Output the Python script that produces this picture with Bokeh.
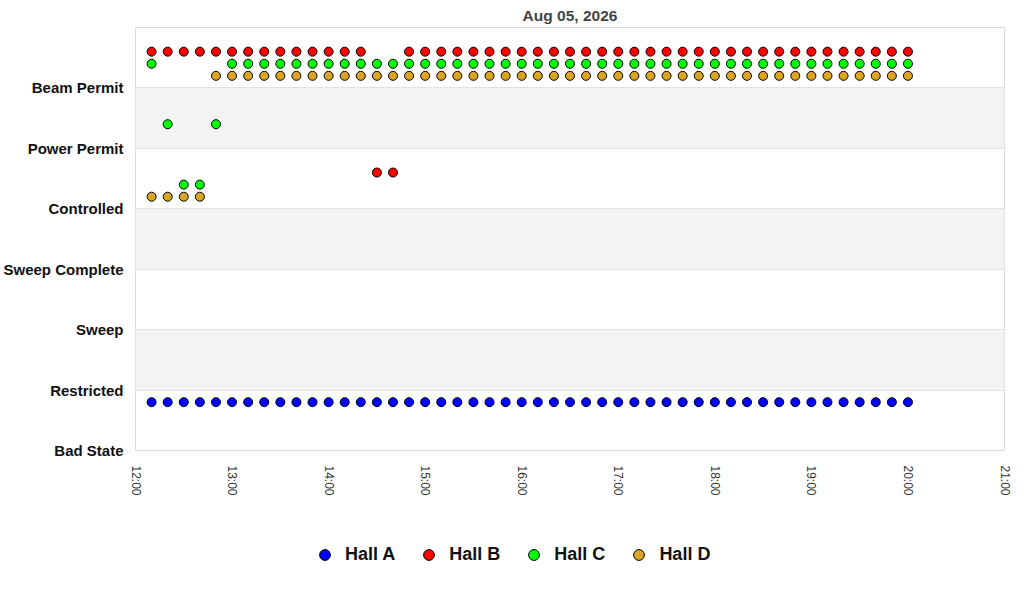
import pandas as pd
from bokeh.plotting import figure
from bokeh.layouts import column
from bokeh.models import (Range1d, FixedTicker, DatetimeTickFormatter, BoxAnnotation,
                          Legend, LegendItem, ColumnDataSource)
from bokeh.embed import file_html
from bokeh.resources import INLINE

title_text = "Aug 05, 2026"
date = "2026-08-05"
states = ["Bad State", "Restricted", "Sweep", "Sweep Complete", "Controlled",
          "Power Permit", "Beam Permit"]

times = ["12:10", "12:20", "12:30", "12:40", "12:50", "13:00",
         "13:10", "13:20", "13:30", "13:40", "13:50", "14:00",
         "14:10", "14:20", "14:30", "14:40", "14:50", "15:00",
         "15:10", "15:20", "15:30", "15:40", "15:50", "16:00",
         "16:10", "16:20", "16:30", "16:40", "16:50", "17:00",
         "17:10", "17:20", "17:30", "17:40", "17:50", "18:00",
         "18:10", "18:20", "18:30", "18:40", "18:50", "19:00",
         "19:10", "19:20", "19:30", "19:40", "19:50", "20:00"]

# state index per time step (0 = Bad State ... 6 = Beam Permit)
hall_a = [0, 0, 0, 0, 0, 0, 0, 0, 0, 0, 0, 0,
          0, 0, 0, 0, 0, 0, 0, 0, 0, 0, 0, 0,
          0, 0, 0, 0, 0, 0, 0, 0, 0, 0, 0, 0,
          0, 0, 0, 0, 0, 0, 0, 0, 0, 0, 0, 0]
hall_b = [6, 6, 6, 6, 6, 6, 6, 6, 6, 6, 6, 6,
          6, 6, 4, 4, 6, 6, 6, 6, 6, 6, 6, 6,
          6, 6, 6, 6, 6, 6, 6, 6, 6, 6, 6, 6,
          6, 6, 6, 6, 6, 6, 6, 6, 6, 6, 6, 6]
hall_c = [6, 5, 4, 4, 5, 6, 6, 6, 6, 6, 6, 6,
          6, 6, 6, 6, 6, 6, 6, 6, 6, 6, 6, 6,
          6, 6, 6, 6, 6, 6, 6, 6, 6, 6, 6, 6,
          6, 6, 6, 6, 6, 6, 6, 6, 6, 6, 6, 6]
hall_d = [4, 4, 4, 4, 6, 6, 6, 6, 6, 6, 6, 6,
          6, 6, 6, 6, 6, 6, 6, 6, 6, 6, 6, 6,
          6, 6, 6, 6, 6, 6, 6, 6, 6, 6, 6, 6,
          6, 6, 6, 6, 6, 6, 6, 6, 6, 6, 6, 6]

hall_names = ["Hall A", "Hall B", "Hall C", "Hall D"]
hall_series = [hall_a, hall_b, hall_c, hall_d]
hall_colors = ["#0000ff", "#ff0000", "#00ff00", "#daa520"]
hall_offsets = [0.8, 0.6, 0.4, 0.2]

x_hours = ["12:00", "13:00", "14:00", "15:00", "16:00", "17:00", "18:00",
           "19:00", "20:00", "21:00"]

FONT = "Liberation Sans"

x_dt = pd.to_datetime([f"{date} {t}" for t in times])
tick_dt = pd.to_datetime([f"{date} {t}" for t in x_hours])
tick_ms = [int(t.value // 10**6) for t in tick_dt]

p = figure(frame_width=869, frame_height=423, output_backend="svg", toolbar_location=None,
           x_axis_type="datetime", title=title_text,
           x_range=Range1d(tick_ms[0], tick_ms[-1]),
           y_range=Range1d(0, len(states)))
p.min_border_left = 127
p.min_border_right = 12
p.min_border_top = 27
p.min_border_bottom = 10
p.background_fill_color = "white"
p.border_fill_color = "white"
p.outline_line_color = "#dcdcdc"
p.outline_line_width = 1

p.title.align = "center"
p.title.text_font = FONT
p.title.text_font_size = "15.5px"
p.title.text_font_style = "bold"
p.title.text_color = "#444444"
p.title.standoff = 8

# alternating bands
for i in range(1, len(states), 2):
    p.add_layout(BoxAnnotation(bottom=i, top=i + 1, fill_color="#f3f3f3", fill_alpha=1,
                               line_color=None, level="image"))

p.xgrid.grid_line_color = None
p.ygrid.ticker = FixedTicker(ticks=list(range(len(states) + 1)))
p.ygrid.grid_line_color = "#e2e2e2"
p.ygrid.grid_line_width = 1

p.yaxis.ticker = FixedTicker(ticks=list(range(len(states))))
p.yaxis.major_label_overrides = {i: s for i, s in enumerate(states)}
p.yaxis.major_label_text_font = FONT
p.yaxis.major_label_text_font_size = "15px"
p.yaxis.major_label_text_font_style = "bold"
p.yaxis.major_label_text_color = "#111111"
p.yaxis.major_label_standoff = 6
p.yaxis.axis_line_color = None
p.yaxis.major_tick_line_color = None
p.yaxis.minor_tick_line_color = None

p.xaxis.ticker = FixedTicker(ticks=tick_ms)
p.xaxis.formatter = DatetimeTickFormatter(hours="%H:%M", days="%H:%M", minutes="%H:%M",
                                          hourmin="%H:%M")
p.xaxis.major_label_orientation = "vertical"
p.xaxis.major_label_text_font = FONT
p.xaxis.major_label_text_font_size = "12px"
p.xaxis.major_label_text_color = "#333333"
p.xaxis.major_label_standoff = 9
p.xaxis.axis_line_color = None
p.xaxis.major_tick_line_color = None
p.xaxis.minor_tick_line_color = None

for name, series, color, off in zip(hall_names, hall_series, hall_colors, hall_offsets):
    src = ColumnDataSource(dict(x=x_dt, y=[s + off for s in series]))
    p.scatter("x", "y", source=src, size=9, marker="circle", fill_color=color,
              line_color="black", line_width=1)

# legend strip below the chart
leg = figure(width=1008, height=76, output_backend="svg", toolbar_location=None,
             x_range=Range1d(0, 1), y_range=Range1d(0, 1),
             x_axis_location=None, y_axis_location=None, min_border=0)
leg.outline_line_color = None
leg.grid.grid_line_color = None
leg.background_fill_color = "white"
leg.border_fill_color = "white"

items = []
for name, color in zip(hall_names, hall_colors):
    # swatch renderer kept outside the visible range; only its legend entry shows
    r = leg.scatter(x=[-5], y=[-5], size=11, marker="circle", fill_color=color,
                    line_color="black", line_width=1)
    items.append(LegendItem(label=name, renderers=[r]))

legend = Legend(items=items, orientation="horizontal", location=(176, 6))
legend.label_text_font = FONT
legend.label_text_font_size = "18px"
legend.label_text_font_style = "bold"
legend.label_text_color = "#111111"
legend.border_line_color = None
legend.background_fill_alpha = 0
legend.glyph_width = 27
legend.glyph_height = 27
legend.label_standoff = 7
legend.spacing = 20
legend.margin = 0
legend.padding = 0
leg.add_layout(legend, "center")

layout = column(p, leg, spacing=0)
open("out.html", "w").write(file_html(layout, INLINE))
